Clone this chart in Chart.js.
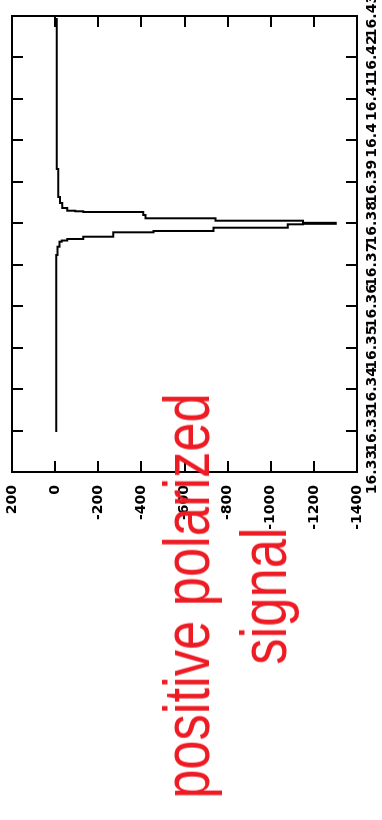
<!DOCTYPE html>
<html><head><meta charset="utf-8">
<script src="https://cdn.jsdelivr.net/npm/chart.js@4.4.1/dist/chart.umd.min.js"></script>
<style>
html,body{margin:0;padding:0;background:#fff;width:382px;height:820px;overflow:hidden;}
#stage{position:absolute;left:0;top:0;width:820px;height:382px;transform-origin:0 0;transform:translate(0,820px) rotate(-90deg);}
#c{position:absolute;left:0;top:0;}
#note{position:absolute;left:-100px;top:149px;width:648px;text-align:center;color:#ed1c24;font-family:"Liberation Sans",Arial,sans-serif;font-size:64px;line-height:77px;white-space:nowrap;transform-origin:324px 0;transform:scaleX(0.82);}
</style></head>
<body>
<div id="stage"><canvas id="c" width="820" height="382"></canvas><div id="note">positive polarized<br>signal</div></div>
<script>
// Data (x in original units, signal values)
const xValues = [16.32965, 16.37235, 16.37435, 16.37556, 16.37584, 16.37621, 16.37676, 16.37782, 16.37814, 16.37893, 16.37975, 16.37987, 16.38011, 16.38062, 16.38120, 16.38200, 16.38272, 16.38289, 16.38303, 16.38368, 16.38489, 16.38634, 16.39309, 16.42952];
const yValues = [-5, -11, -20, -31, -56, -130, -270, -456, -735, -1079, -1149, -1302, -1149, -744, -419, -409, -130, -93, -56, -33, -23, -15, -8, -8];
const xTickValues = [16.32, 16.33, 16.34, 16.35, 16.36, 16.37, 16.38, 16.39, 16.40, 16.41, 16.42, 16.43];
const xTickLabels = ['16.33', '16.33', '16.34', '16.35', '16.36', '16.37', '16.38', '16.39', '16.4', '16.41', '16.42', '16.43'];
const yTickValues = [200, 0, -200, -400, -600, -800, -1000, -1200, -1400];

const points = xValues.map((x, i) => ({x: x, y: yValues[i]}));

const framePlugin = {
  id: 'frame',
  afterDatasetsDraw(chart) {
    const {ctx, chartArea: a, scales: {x, y}} = chart;
    ctx.save();
    ctx.strokeStyle = '#000';
    ctx.lineWidth = 2;
    ctx.strokeRect(a.left, a.top, a.right - a.left, a.bottom - a.top);
    ctx.beginPath();
    const L = 11;
    x.ticks.forEach(t => {
      const px = Math.round(x.getPixelForValue(t.value));
      ctx.moveTo(px, a.bottom); ctx.lineTo(px, a.bottom - L);
      ctx.moveTo(px, a.top); ctx.lineTo(px, a.top + L);
    });
    y.ticks.forEach(t => {
      const py = Math.round(y.getPixelForValue(t.value));
      ctx.moveTo(a.left, py); ctx.lineTo(a.left + L, py);
      ctx.moveTo(a.right, py); ctx.lineTo(a.right - L, py);
    });
    ctx.stroke();
    ctx.restore();
  }
};

Chart.defaults.font.family = 'DejaVu Sans';
Chart.defaults.font.size = 14;
Chart.defaults.font.weight = 'bold';
Chart.defaults.color = '#000';

new Chart(document.getElementById('c'), {
  type: 'line',
  data: {
    datasets: [{
      data: points,
      borderColor: '#000',
      borderWidth: 2,
      pointRadius: 0,
      stepped: 'before',
      fill: false,
      tension: 0
    }]
  },
  options: {
    responsive: false,
    animation: false,
    events: [],
    layout: {padding: {left: 288, right: 16, top: 12, bottom: 0}},
    plugins: {legend: {display: false}, tooltip: {enabled: false}, title: {display: false}},
    scales: {
      x: {
        type: 'linear',
        min: 16.32,
        max: 16.43,
        grid: {display: false, drawTicks: false},
        border: {display: false},
        afterBuildTicks: (s) => { s.ticks = xTickValues.map(v => ({value: v})); },
        afterFit: (s) => { s.height = 25; s.paddingLeft = 0; s.paddingRight = 0; },
        ticks: {
          autoSkip: false, maxRotation: 0, minRotation: 0, padding: 7,
          callback: (v, i) => xTickLabels[i]
        }
      },
      y: {
        type: 'linear',
        min: -1400,
        max: 200,
        grid: {display: false, drawTicks: false},
        border: {display: false},
        afterBuildTicks: (s) => { s.ticks = yTickValues.map(v => ({value: v})); },
        afterFit: (s) => { s.width = 60; s.paddingTop = 0; s.paddingBottom = 0; },
        ticks: {autoSkip: false, padding: 13, callback: (v) => String(v)}
      }
    }
  },
  plugins: [framePlugin]
});
</script>
</body></html>
